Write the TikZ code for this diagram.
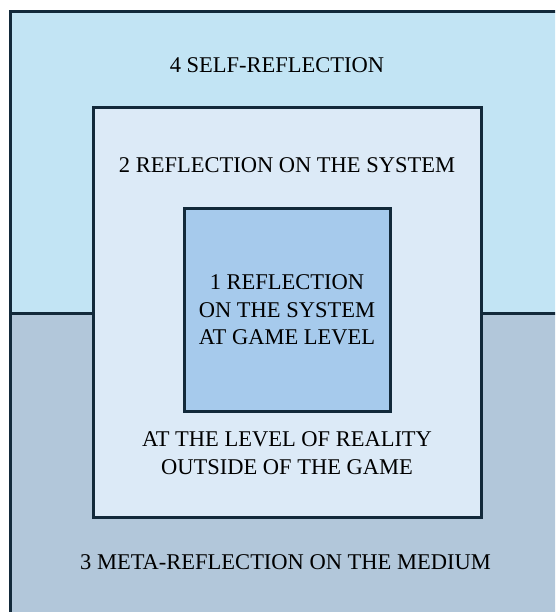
\documentclass[tikz,border=0pt]{standalone}
\usepackage{fontspec}
\setmainfont{Liberation Serif}
\definecolor{topc}{HTML}{C2E4F4}
\definecolor{botc}{HTML}{B2C7DA}
\definecolor{midc}{HTML}{DCEAF7}
\definecolor{innc}{HTML}{A6CAEC}
\definecolor{edge}{HTML}{12293A}
\begin{document}
\begin{tikzpicture}[x=1pt,y=1pt,
  box/.style={draw=edge, line width=3pt},
  lbl/.style={font=\fontsize{22.5}{27.5}\selectfont, align=center, text=black, inner sep=0pt}]
\useasboundingbox (0,0) rectangle (555,612);
\clip (0,0) rectangle (555,612);
\fill[topc] (10,298) rectangle (570,600);
\fill[botc] (10,-10) rectangle (570,298);
\draw[box] (10,-10) -- (10,600) -- (570,600);
\node[box, fill=midc, minimum width=388pt, minimum height=410pt, inner sep=0pt] (mid) at (287,299) {};
\node[box, fill=innc, minimum width=206pt, minimum height=203pt, inner sep=0pt] (inn) at (287,301.5) {};
\coordinate (ldiv) at (10,298);
\coordinate (rdiv) at (570,298);
\draw[box] (ldiv) -- (ldiv -| mid.west);
\draw[box] (mid.east |- rdiv) -- (rdiv);
\node[lbl] (t4) at (277,547) {4 SELF-REFLECTION};
\node[lbl] (t2) at (287,447) {2 REFLECTION ON THE SYSTEM};
\node[lbl] (t1) at (287,302) {1 REFLECTION\\ON THE SYSTEM\\AT GAME LEVEL};
\node[lbl] (tr) at (287,159) {AT THE LEVEL OF REALITY\\OUTSIDE OF THE GAME};
\node[lbl] (t3) at (285.5,50) {3 META-REFLECTION ON THE MEDIUM};
\end{tikzpicture}
\end{document}
